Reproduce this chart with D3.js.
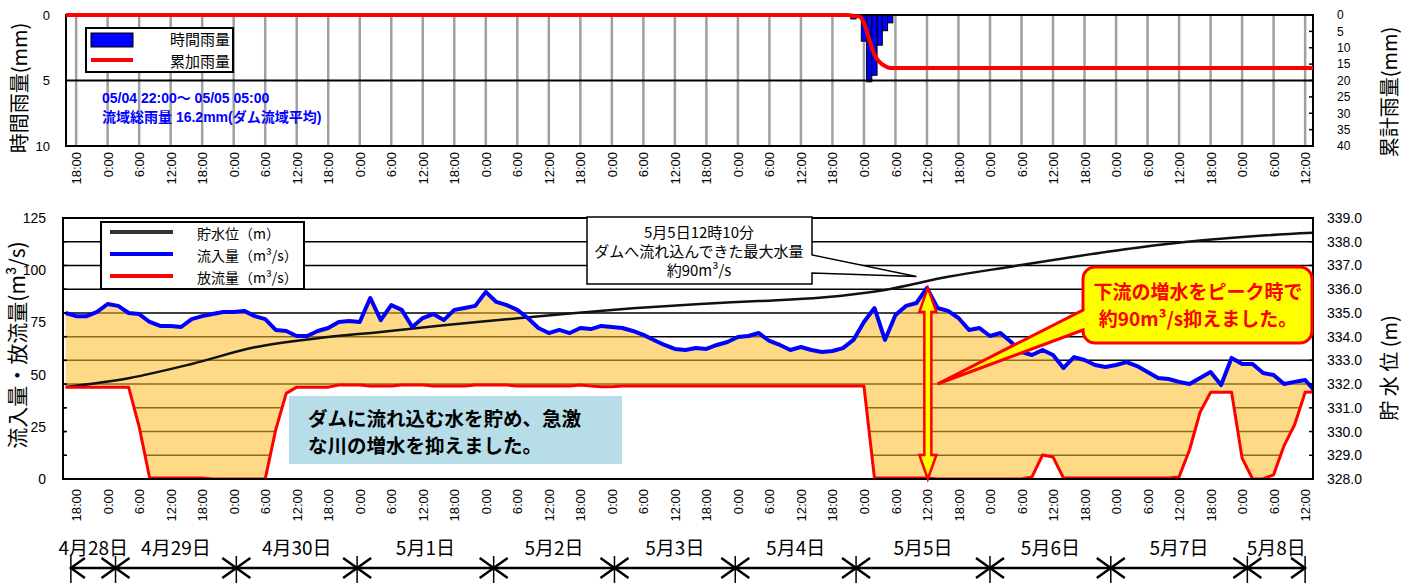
<!DOCTYPE html>
<html>
<head>
<meta charset="utf-8">
<script src="https://cdn.jsdelivr.net/npm/d3@7"></script>
<style>
  body { margin: 0; background: #fff; }
  svg text { font-family: "Liberation Sans", "Noto Sans CJK JP", sans-serif; }
  svg text.jp { font-family: "Noto Sans CJK JP", sans-serif; }
</style>
</head>
<body>
<svg id="chart" width="1404" height="584"></svg>
<script>
// ---- data ----
var rainTimes = ["05-04 22:00", "05-04 23:00", "05-05 00:00", "05-05 01:00", "05-05 02:00", "05-05 03:00", "05-05 04:00", "05-05 05:00"];
var rainValues = [0.3, 0.1, 2.0, 5.1, 4.6, 2.3, 1.2, 0.6];
var cumTimes = ["04-28 15:00", "05-04 21:00"].concat(rainTimes, ["05-08 14:00"]);
var cumValues = [0, 0, 0.3, 0.4, 2.4, 7.5, 12.1, 14.4, 15.6, 16.2, 16.2];

// inflow / outflow every 2 hours from 4/28 16:00
var flowStart = "04-28 16:00", flowStep = 2;
var inflow = [79.5, 78, 78, 80, 83.8, 82.9, 79.5, 79, 75.2, 73.3,
  73.3, 72.8, 76.6, 78, 79, 80, 80, 80.5, 78, 76.6,
  71.4, 70.9, 68.5, 68.5, 70.9, 72.3, 75.2, 75.7, 75.2, 86.7,
  76.1, 83.3, 81, 72.8, 77.1, 79, 76.1, 81, 81.9, 82.9,
  89.6, 84.8, 83.3, 81, 77.1, 72.3, 69.9, 71.4, 69.9, 72.3,
  71.8, 73.3, 72.8, 72.3, 70.9, 69, 66.6, 64.2, 62.3, 61.8,
  62.7, 62.3, 64.2, 65.6, 68, 68.5, 69.9, 66.1, 64.2, 61.8,
  63.2, 61.8, 60.8, 61.3, 62.7, 66.6, 75.2, 81.9, 66.6, 78.5,
  82.9, 84.3, 91.5, 81.9, 80.5, 77.1, 71.4, 72.3, 68.5, 69.9,
  65.6, 60.8, 59.4, 61.8, 59.4, 53.2, 58.4, 57, 54.6, 53.6,
  54.6, 56, 54.1, 51.2, 48.4, 47.9, 46.5, 45.5, 48.4, 51.2,
  45, 58, 55.1, 55.1, 50.8, 49.8, 45.5, 46.5, 47.4, 41.7];
var outflow = [44, 44, 44, 44, 44, 44, 44, 25, 0.5, 0.5,
  0.5, 0.5, 0.5, 0.5, 0, 0, 0, 0, 0, 0,
  23.5, 41, 44, 44, 44, 44, 45, 45, 45, 44.5,
  44.5, 44.5, 45, 45, 45, 44.5, 44.5, 44.5, 44.5, 45,
  45, 45, 45, 44.5, 44.5, 44.5, 44.5, 44.5, 44.5, 45,
  44.5, 44.2, 44.2, 44.5, 44.5, 44.5, 44.5, 44.5, 44.5, 44.5,
  44.5, 44.5, 44.5, 44.5, 44.5, 44.5, 44.5, 44.5, 44.5, 44.5,
  44.5, 44.5, 44.5, 44.5, 44.5, 44.5, 44.5, 0.5, 0.5, 0.5,
  0.5, 0.5, 0.5, 0, 0, 0, 0, 0, 0, 0,
  0, 0, 1, 11.5, 10.5, 0.5, 0.5, 0.5, 0.5, 0.5,
  0.5, 0.5, 0.5, 0.5, 0.5, 0.5, 1, 14, 32, 41.5,
  41.5, 41.5, 10, 0, 0, 2, 16, 26, 41.5, 41.7];

// reservoir level every 12 hours from 4/28 16:00
var levelStart = "04-28 16:00", levelStep = 12;
var level = [331.88, 332.25, 332.85, 333.55, 333.93, 334.2, 334.48, 334.73, 334.98, 335.2,
  335.37, 335.5, 335.65, 335.97, 336.52, 336.95, 337.37, 337.75, 338.05, 338.26, 338.4];

var rainTicks = [0, 5, 10];
var cumTicks = [0, 5, 10, 15, 20, 25, 30, 35, 40];
var flowTicks = [0, 25, 50, 75, 100, 125];
var levelTicks = [328, 329, 330, 331, 332, 333, 334, 335, 336, 337, 338, 339];

var dayNames = ["4月28日", "4月29日", "4月30日", "5月1日", "5月2日", "5月3日", "5月4日", "5月5日", "5月6日", "5月7日", "5月8日"];
var dayBounds = ["04-28 17:00", "04-29 01:30", "04-30 00:30", "04-30 23:30", "05-02 01:30", "05-03 00:30",
  "05-03 23:30", "05-04 22:30", "05-06 00:00", "05-06 23:00", "05-08 01:00", "05-08 12:00"];

var peakTime = "05-05 12:10", peakValue = 91.5;

// ---- scales ----
var parse = d3.timeParse("%Y-%m-%d %H:%M");
function T(s) { return parse("2019-" + s); }

var svg = d3.select("#chart");
var x = d3.scaleTime().domain([T("04-28 15:30"), T("05-08 13:30")]).range([63, 1313]);
var top0 = 15, top1 = 146, bot0 = 218, bot1 = 479;
var yRain = d3.scaleLinear().domain([0, 10]).range([top0, top1]);
var yCum = d3.scaleLinear().domain([0, 40]).range([top0, top1]);
var yFlow = d3.scaleLinear().domain([0, 125]).range([bot1, bot0]);
var yLevel = d3.scaleLinear().domain([328, 339]).range([bot1, bot0]);
var sixHours = x.ticks(d3.timeHour.every(6));

var defs = svg.append("defs");
defs.append("clipPath").attr("id", "clipTop").append("rect")
    .attr("x", 66).attr("y", top0 - 3).attr("width", 1313 - 66).attr("height", top1 - top0 + 6);
defs.append("clipPath").attr("id", "clipBot").append("rect")
    .attr("x", 63).attr("y", bot0).attr("width", 1313 - 63).attr("height", bot1 - bot0);

// ================= top chart (rain) =================
var gt = svg.append("g");
gt.selectAll(".vgrid").data(sixHours).enter().append("line")
    .attr("x1", function(d) { return x(d); }).attr("x2", function(d) { return x(d); })
    .attr("y1", top0).attr("y2", top1)
    .attr("stroke", "#a0a0a0").attr("stroke-width", 2.5);

var barW = x(T("05-05 01:00")) - x(T("05-05 00:00"));
gt.selectAll(".rain").data(rainValues).enter().append("rect")
    .attr("x", function(d, i) { return x(T(rainTimes[i])) - barW / 2; })
    .attr("width", barW)
    .attr("y", yRain(0))
    .attr("height", function(d) { return yRain(d) - yRain(0); })
    .attr("fill", "#0000ff").attr("stroke", "#000").attr("stroke-width", 1);

gt.append("line").attr("x1", 66).attr("x2", 1313).attr("y1", yRain(5)).attr("y2", yRain(5))
    .attr("stroke", "#000").attr("stroke-width", 2);
gt.append("rect").attr("x", 66).attr("y", top0).attr("width", 1313 - 66).attr("height", top1 - top0)
    .attr("fill", "none").attr("stroke", "#000").attr("stroke-width", 2);

var cumLine = d3.line().curve(d3.curveMonotoneX)
    .x(function(d, i) { return x(T(cumTimes[i])); })
    .y(function(d) { return yCum(d); });
gt.append("path").datum(cumValues).attr("d", cumLine).attr("clip-path", "url(#clipTop)")
    .attr("fill", "none").attr("stroke", "#ff0000").attr("stroke-width", 4);

// right axis ticks
gt.selectAll(".rtick").data(cumTicks).enter().append("line")
    .attr("x1", 1309).attr("x2", 1313)
    .attr("y1", function(d) { return yCum(d); }).attr("y2", function(d) { return yCum(d); })
    .attr("stroke", "#000").attr("stroke-width", 1.5);

var axL = svg.append("g").attr("transform", "translate(50,0)")
    .call(d3.axisLeft(yRain).tickValues(rainTicks).tickSize(0).tickPadding(0));
axL.select(".domain").remove();
axL.selectAll("text").attr("font-size", 13).attr("font-family", "Liberation Sans");

var axR = svg.append("g").attr("transform", "translate(1337,0)")
    .call(d3.axisRight(yCum).tickValues(cumTicks).tickSize(0).tickPadding(0));
axR.select(".domain").remove();
axR.selectAll("text").attr("font-size", 12).attr("font-family", "Liberation Sans");

svg.append("text").attr("class", "jp").attr("transform", "translate(20,88) rotate(-90)")
    .attr("text-anchor", "middle").attr("dy", "0.35em").attr("font-size", 20).text("時間雨量(mm)");
svg.append("text").attr("class", "jp").attr("transform", "translate(1390,92) rotate(-90)")
    .attr("text-anchor", "middle").attr("dy", "0.35em").attr("font-size", 20).text("累計雨量(mm)");

// top legend
var lt = svg.append("g");
lt.append("rect").attr("x", 86).attr("y", 28).attr("width", 147).attr("height", 44)
    .attr("fill", "#fff").attr("stroke", "#000").attr("stroke-width", 2);
lt.append("rect").attr("x", 91).attr("y", 33).attr("width", 42).attr("height", 14)
    .attr("fill", "#0000ff").attr("stroke", "#000").attr("stroke-width", 1);
lt.append("line").attr("x1", 91).attr("x2", 133).attr("y1", 60).attr("y2", 60)
    .attr("stroke", "#ff0000").attr("stroke-width", 4);
lt.append("text").attr("class", "jp").attr("x", 170).attr("y", 40).attr("dy", "0.35em")
    .attr("font-size", 15).text("時間雨量");
lt.append("text").attr("class", "jp").attr("x", 170).attr("y", 62).attr("dy", "0.35em")
    .attr("font-size", 15).text("累加雨量");

svg.append("text").attr("x", 102).attr("y", 103).attr("font-size", 14).attr("font-weight", "bold")
    .attr("fill", "#0000ff").text("05/04 22:00～ 05/05 05:00");
svg.append("text").attr("x", 102).attr("y", 122).attr("font-size", 14).attr("font-weight", "bold")
    .attr("fill", "#0000ff").text("流域総雨量 16.2mm(ダム流域平均)");

// ================= bottom chart (flow / level) =================
var gb = svg.append("g").attr("clip-path", "url(#clipBot)");
var gridInner = levelTicks.slice(1);

gb.append("rect").attr("x", 63).attr("y", bot0).attr("width", 1250).attr("height", bot1 - bot0).attr("fill", "#fff");
gb.selectAll(".hgrid").data(gridInner).enter().append("line")
    .attr("x1", 63).attr("x2", 1313)
    .attr("y1", function(d) { return yLevel(d); }).attr("y2", function(d) { return yLevel(d); })
    .attr("stroke", "#000").attr("stroke-width", 1.5);

var flowData = inflow.map(function(v, i) {
  return { t: d3.timeHour.offset(T(flowStart), i * flowStep), inflow: v, outflow: outflow[i] };
});
var between = d3.area()
    .x(function(d) { return x(d.t); })
    .y0(function(d) { return yFlow(d.outflow); })
    .y1(function(d) { return yFlow(d.inflow); });
var under = d3.area()
    .x(function(d) { return x(d.t); })
    .y0(yFlow(0))
    .y1(function(d) { return yFlow(d.outflow); });

gb.append("path").datum(flowData).attr("d", between).attr("fill", "#ffda86");
gb.append("path").datum(flowData).attr("d", under).attr("fill", "#fff");

defs.append("clipPath").attr("id", "clipFill").append("path").datum(flowData).attr("d", between);
gb.append("g").attr("clip-path", "url(#clipFill)")
  .selectAll("line").data(gridInner).enter().append("line")
    .attr("x1", 63).attr("x2", 1313)
    .attr("y1", function(d) { return yLevel(d); }).attr("y2", function(d) { return yLevel(d); })
    .attr("stroke", "#8a6a1c").attr("stroke-width", 1.5);

// short grid stubs on both edges
svg.selectAll(".stub").data(gridInner).enter().append("line")
    .attr("x1", 63).attr("x2", 67)
    .attr("y1", function(d) { return yLevel(d); }).attr("y2", function(d) { return yLevel(d); })
    .attr("stroke", "#000").attr("stroke-width", 1.5);
svg.selectAll(".stubR").data(gridInner).enter().append("line")
    .attr("x1", 1309).attr("x2", 1313)
    .attr("y1", function(d) { return yLevel(d); }).attr("y2", function(d) { return yLevel(d); })
    .attr("stroke", "#000").attr("stroke-width", 1.5);

var levelLine = d3.line().curve(d3.curveMonotoneX)
    .x(function(d, i) { return x(d3.timeHour.offset(T(levelStart), i * levelStep)); })
    .y(function(d) { return yLevel(d); });
gb.append("path").datum(level).attr("d", levelLine)
    .attr("fill", "none").attr("stroke", "#111").attr("stroke-width", 2.5);

gb.append("path").datum(flowData)
    .attr("d", d3.line().x(function(d) { return x(d.t); }).y(function(d) { return yFlow(d.outflow); }))
    .attr("fill", "none").attr("stroke", "#ff0000").attr("stroke-width", 3).attr("stroke-linejoin", "round");
gb.append("path").datum(flowData)
    .attr("d", d3.line().x(function(d) { return x(d.t); }).y(function(d) { return yFlow(d.inflow); }))
    .attr("fill", "none").attr("stroke", "#0000ff").attr("stroke-width", 4).attr("stroke-linejoin", "round");

svg.append("rect").attr("x", 63).attr("y", bot0).attr("width", 1250).attr("height", bot1 - bot0)
    .attr("fill", "none").attr("stroke", "#000").attr("stroke-width", 2);

var axFL = svg.append("g").attr("transform", "translate(46,0)")
    .call(d3.axisLeft(yFlow).tickValues(flowTicks).tickSize(0).tickPadding(0));
axFL.select(".domain").remove();
axFL.selectAll("text").attr("font-size", 14).attr("font-family", "Liberation Sans");

var axLR = svg.append("g").attr("transform", "translate(1327,0)")
    .call(d3.axisRight(yLevel).tickValues(levelTicks).tickFormat(d3.format(".1f")).tickSize(0).tickPadding(0));
axLR.select(".domain").remove();
axLR.selectAll("text").attr("font-size", 14).attr("font-family", "Liberation Sans");

svg.append("text").attr("class", "jp").attr("transform", "translate(18,345) rotate(-90)")
    .attr("text-anchor", "middle").attr("dy", "0.35em").attr("font-size", 21).text("流入量・放流量(m³/s)");
svg.append("text").attr("class", "jp").attr("transform", "translate(1390,368) rotate(-90)")
    .attr("text-anchor", "middle").attr("dy", "0.35em").attr("font-size", 20).text("貯 水 位 (m)");

// time tick labels (both charts)
function timeLabels(y) {
  var g = svg.append("g").attr("transform", "translate(0," + y + ")")
      .call(d3.axisBottom(x).ticks(d3.timeHour.every(6)).tickFormat(d3.timeFormat("%-H:%M")).tickSize(0));
  g.select(".domain").remove();
  g.selectAll("text").attr("transform", "rotate(-90)").attr("text-anchor", "end")
      .attr("x", 0).attr("y", 0).attr("dy", "0.35em")
      .attr("font-size", 13).attr("font-family", "Liberation Sans");
}
timeLabels(152);
timeLabels(489);

// bottom legend
var lb = svg.append("g");
lb.append("rect").attr("x", 101).attr("y", 222).attr("width", 203).attr("height", 67)
    .attr("fill", "#fff").attr("stroke", "#000").attr("stroke-width", 2);
var legItems = [["貯水位（m）", "#333"], ["流入量（m³/s）", "#0000ff"], ["放流量（m³/s）", "#ff0000"]];
legItems.forEach(function(it, i) {
  var yy = 232 + i * 22;
  lb.append("line").attr("x1", 110).attr("x2", 173).attr("y1", yy).attr("y2", yy)
      .attr("stroke", it[1]).attr("stroke-width", 4);
  lb.append("text").attr("class", "jp").attr("x", 197).attr("y", yy + 2).attr("dy", "0.35em")
      .attr("font-size", 14).text(it[0]);
});

// callout: max inflow
var tip1 = [x(T("05-05 10:00")), yFlow(97)];
svg.append("path")
    .attr("d", "M587,217 H812 V255 L" + tip1[0] + "," + tip1[1] + " L812,273 V284 H587 Z")
    .attr("fill", "#fff").attr("stroke", "#000").attr("stroke-width", 1.5);
["5月5日12時10分", "ダムへ流れ込んできた最大水量", "約90m³/s"].forEach(function(s, i) {
  svg.append("text").attr("class", "jp").attr("x", 699).attr("y", 233 + i * 19).attr("dy", "0.35em")
      .attr("text-anchor", "middle").attr("font-size", 15).text(s);
});

// double arrow at the peak
var ax0 = x(T(peakTime)), ayT = yFlow(peakValue), ayB = yFlow(0);
var hw = 8.5, sw = 3.5, hl = 24;
svg.append("path")
    .attr("d", "M" + ax0 + "," + ayT +
      " L" + (ax0 + hw) + "," + (ayT + hl) + " L" + (ax0 + sw) + "," + (ayT + hl) +
      " L" + (ax0 + sw) + "," + (ayB - hl) + " L" + (ax0 + hw) + "," + (ayB - hl) +
      " L" + ax0 + "," + ayB +
      " L" + (ax0 - hw) + "," + (ayB - hl) + " L" + (ax0 - sw) + "," + (ayB - hl) +
      " L" + (ax0 - sw) + "," + (ayT + hl) + " L" + (ax0 - hw) + "," + (ayT + hl) + " Z")
    .attr("fill", "#ffff00").attr("stroke", "#ff0000").attr("stroke-width", 2.5).attr("stroke-linejoin", "miter");

// yellow callout
var tip2 = [x(T("05-05 14:00")), yFlow(45.5)];
svg.append("path")
    .attr("d", "M1095,267 H1300 A12,12 0 0 1 1312,279 V331 A12,12 0 0 1 1300,343 H1095 A12,12 0 0 1 1083,331 V330 L" +
      tip2[0] + "," + tip2[1] + " L1083,310 V279 A12,12 0 0 1 1095,267 Z")
    .attr("fill", "#ffff00").attr("stroke", "#ff0000").attr("stroke-width", 3);
svg.append("text").attr("class", "jp").attr("x", 1198).attr("y", 292).attr("dy", "0.35em")
    .attr("text-anchor", "middle").attr("font-size", 19).attr("font-weight", "bold").attr("fill", "#ff0000")
    .text("下流の増水をピーク時で");
svg.append("text").attr("class", "jp").attr("x", 1198).attr("y", 319).attr("dy", "0.35em")
    .attr("text-anchor", "middle").attr("font-size", 19).attr("font-weight", "bold").attr("fill", "#ff0000")
    .text("約90m³/s抑えました。");

// light blue note
svg.append("rect").attr("x", 289).attr("y", 396).attr("width", 333).attr("height", 68).attr("fill", "#b6dde8");
svg.append("text").attr("class", "jp").attr("x", 308).attr("y", 419).attr("dy", "0.35em")
    .attr("font-size", 19.5).attr("font-weight", "bold").text("ダムに流れ込む水を貯め、急激");
svg.append("text").attr("class", "jp").attr("x", 308).attr("y", 446).attr("dy", "0.35em")
    .attr("font-size", 19.5).attr("font-weight", "bold").text("な川の増水を抑えました。");

// day labels with arrows
var gd = svg.append("g");
var bx = dayBounds.map(function(s) { return x(T(s)); });
var ya = 568, al = 14, ah = 10;
bx.forEach(function(b) {
  gd.append("line").attr("x1", b).attr("x2", b).attr("y1", 556).attr("y2", 583)
      .attr("stroke", "#000").attr("stroke-width", 1.5);
});
dayNames.forEach(function(name, i) {
  var a = bx[i], b = bx[i + 1];
  gd.append("line").attr("x1", a).attr("x2", b).attr("y1", ya).attr("y2", ya)
      .attr("stroke", "#000").attr("stroke-width", 2.5);
  gd.append("polyline").attr("points", (a + al) + "," + (ya - ah) + " " + a + "," + ya + " " + (a + al) + "," + (ya + ah))
      .attr("fill", "none").attr("stroke", "#000").attr("stroke-width", 2.5);
  gd.append("polyline").attr("points", (b - al) + "," + (ya - ah) + " " + b + "," + ya + " " + (b - al) + "," + (ya + ah))
      .attr("fill", "none").attr("stroke", "#000").attr("stroke-width", 2.5);
  gd.append("text").attr("class", "jp").attr("x", (a + b) / 2).attr("y", 548).attr("dy", "0.35em")
      .attr("text-anchor", "middle").attr("font-size", 19).text(name);
});
</script>
</body>
</html>
